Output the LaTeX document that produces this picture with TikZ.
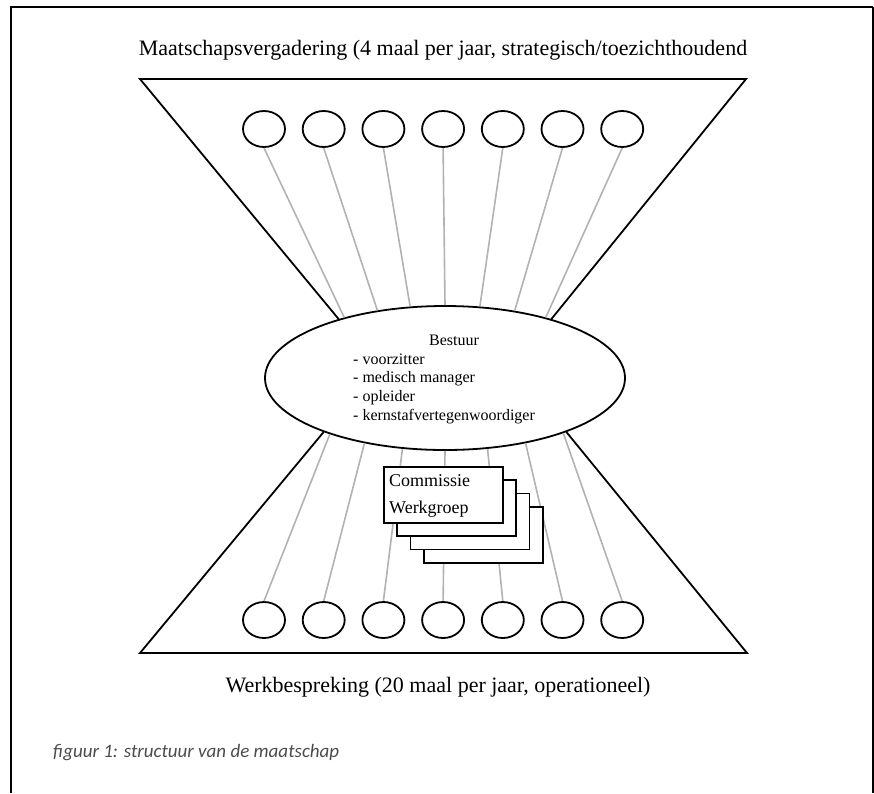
\documentclass[tikz,border=0pt]{standalone}
\usepackage{fontspec}
\setmainfont{Liberation Serif}
\newfontfamily\capfont{Carlito}
\usetikzlibrary{shapes.geometric}

\tikzset{
  lid/.style={draw, ellipse, line width=1.8pt, minimum width=42pt, minimum height=36pt, inner sep=0pt},
  link/.style={draw=black!30, line width=1.6pt},
  rand/.style={line width=1.8pt},
  groepbox/.style={draw, fill=white, line width=1.6pt, minimum width=119pt, minimum height=56pt, inner sep=0pt},
  kop/.style={font=\fontsize{22}{26}\selectfont, inner sep=0pt},
  lijst/.style={font=\fontsize{16}{19}\selectfont, inner sep=0pt},
  werk/.style={font=\fontsize{18}{22}\selectfont, inner sep=0pt},
}

\begin{document}
\begin{tikzpicture}[x=1pt,y=-1pt]
	\useasboundingbox (0,0) rectangle (874,793);
	% kader
	\draw[rand] (873,7) -- (11,7) -- (11,793);
	\draw[rand] (873,7) -- (873,793);

	% koppen
	\node[kop, anchor=base] (maatschap) at (443,55) {Maatschapsvergadering (4 maal per jaar, strategisch/toezichthoudend};
	\node[kop, anchor=base] (werkbespreking) at (438,692) {Werkbespreking (20 maal per jaar, operationeel)};

	% bestuur en leden
	\node[draw, ellipse, fill=white, line width=1.8pt, minimum width=360pt, minimum height=144pt, inner sep=0pt] (bestuur) at (445,378) {};
	\foreach \i in {1,...,7} {
		\node[lid] (t\i) at ({264+(\i-1)*59.7},129) {};
		\node[lid] (b\i) at ({264+(\i-1)*59.7},620) {};
	}

	% trechters
	\coordinate (tl) at (140,79);
	\coordinate (tr) at (746,79);
	\coordinate (bl) at (140,653);
	\coordinate (br) at (747,653);
	\draw[rand] (bestuur.151) -- (tl) -- (tr) -- (bestuur.29);
	\draw[rand] (bestuur.-156) -- (bl) -- (br) -- (bestuur.-24);

	% verbindingen
	\foreach \a [count=\i] in {149,135.5,116,90,64,44.5,31}
		\draw[link] (t\i.south) -- (bestuur.\a);
	\foreach \a [count=\i] in {-154.3,-141,-121,-90,-59,-39,-25.7}
		\draw[link] (bestuur.\a) -- (b\i.north);

	% tekst bestuur
	\node[lijst, anchor=base] (titel) at (454,345) {Bestuur};
	\foreach \lid [count=\k] in {voorzitter, medisch manager, opleider, kernstafvertegenwoordiger}
		\node[lijst, anchor=base west] (l\k) at (353,{364+(\k-1)*18.7}) {- \lid};

	% commissies en werkgroepen
	\foreach \k in {3,2,1,0}
		\node[groepbox, anchor=north west] (g\k) at ({383+13.3*\k},{466+13.3*\k}) {};
	\node[werk, anchor=base west] (commissie) at (389,486) {Commissie};
	\node[werk, anchor=base west] (werkgroep) at (389,513) {Werkgroep};

	% onderschrift
	\node[inner sep=0pt, anchor=base west, text=black!70, font=\capfont\itshape\fontsize{19}{22}\selectfont] (onderschrift) at (53,757) {figuur 1: structuur van de maatschap};
\end{tikzpicture}
\end{document}
